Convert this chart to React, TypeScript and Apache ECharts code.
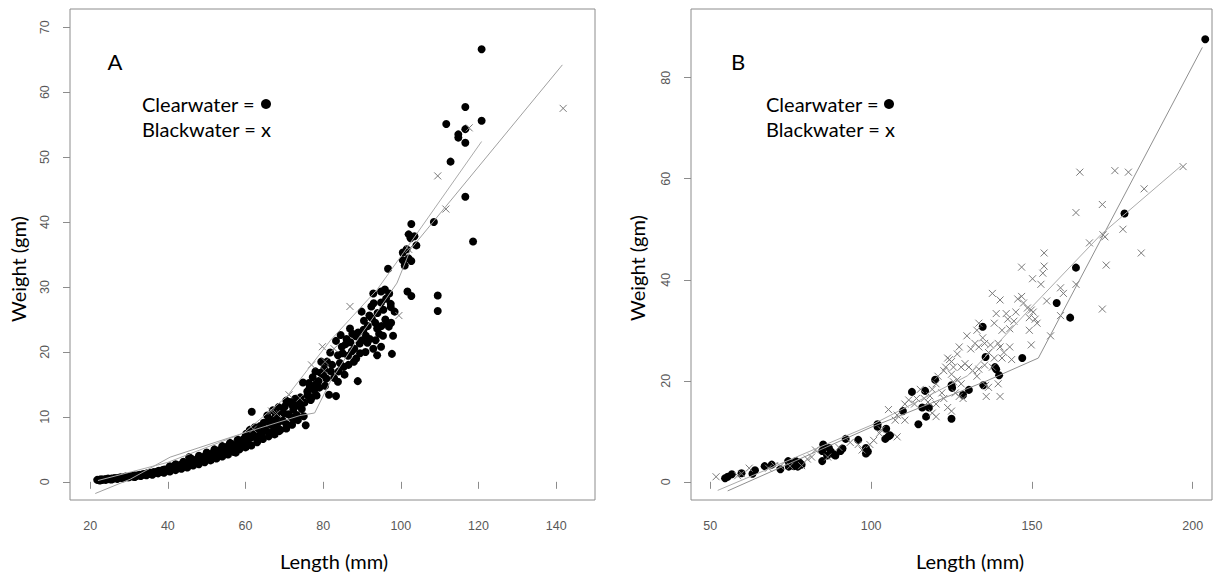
import React, { useEffect, useRef } from 'react';
import * as echarts from 'echarts';

// ---------- tick labels ----------
const xTicksA = [20, 40, 60, 80, 100, 120, 140];
const yTicksA = [0, 10, 20, 30, 40, 50, 60, 70];
const xTicksB = [50, 100, 150, 200];
const yTicksB = [0, 20, 40, 60, 80];

// ---------- panel A ----------
const clearA: number[][] = [
  [21.8,0.3],[22.3,0.3],[22.8,0.4],[23.2,0.3],[23.7,0.4],[24.1,0.4],[24.6,0.5],[25.0,0.4],[25.5,0.5],[26.0,0.5],
  [26.4,0.6],[26.9,0.5],[27.3,0.6],[27.8,0.7],[28.2,0.6],[28.7,0.7],[29.1,0.8],[29.6,0.7],[30.0,0.8],[30.5,0.9],
  [31.0,0.8],[31.4,1.0],[31.9,0.9],[32.3,1.0],[32.8,1.1],[33.2,1.0],[33.7,1.2],[34.1,1.1],[34.6,1.3],[35.0,1.2],
  [35.5,1.4],[35.9,1.3],[36.4,1.5],[36.8,1.4],[37.3,1.6],[37.7,1.7],[38.2,1.5],[38.6,1.8],[39.1,1.9],[39.5,1.7],
  [40.0,2.0],[40.4,2.1],[40.9,1.9],[41.3,2.3],[41.8,2.2],[42.2,2.4],[42.7,2.1],[43.1,2.6],[43.6,2.5],[44.0,2.8],
  [44.5,2.4],[44.9,2.9],[45.4,2.7],[45.5,3.8],[45.8,3.1],[46.3,2.9],[46.7,3.3],[47.2,3.0],[47.6,3.5],[48.1,3.2],
  [48.5,3.7],[49.0,3.4],[49.4,3.9],[49.9,3.6],[50.3,4.1],[50.8,3.8],[51.2,4.3],[51.7,3.9],[52.1,4.6],[52.6,4.2],
  [53.0,4.8],[53.5,4.4],[53.9,5.1],[54.4,4.6],[54.8,5.3],[55.3,4.9],[55.7,5.6],[56.2,5.1],[56.6,5.8],[57.1,5.4],
  [57.5,4.5],[58.0,5.7],[58.4,6.1],[58.9,5.5],[59.3,6.5],[59.8,5.9],[60.2,7.4],[60.6,6.4],[61.1,8.0],[61.5,6.8],
  [61.6,10.8],[62.0,7.3],[62.4,8.4],[62.9,6.9],[63.3,7.7],[63.8,8.6],[64.2,7.4],[64.7,9.1],[65.1,8.0],[65.6,10.2],
  [66.0,7.6],[66.5,8.8],[66.9,9.6],[67.4,8.2],[67.8,10.3],[68.3,9.0],[68.7,7.8],[69.2,10.9],[69.6,9.4],[70.1,11.6],
  [70.5,8.9],[71.0,10.4],[71.4,12.3],[71.9,9.9],[72.3,11.1],[72.8,12.8],[73.2,10.3],[73.7,11.7],[74.1,13.0],[74.8,15.3],
  [75.2,12.2],[75.5,8.7],[75.9,13.9],[76.3,15.2],[76.8,12.6],[77.3,16.1],[77.7,14.1],[78.3,13.3],[78.8,15.5],[79.3,16.8],
  [80.3,17.4],[80.8,15.9],[81.5,13.4],[81.8,19.9],[82.3,18.0],[82.8,16.0],[83.3,21.7],[83.3,13.2],[83.8,15.4],[84.3,18.3],
  [84.5,22.6],[84.8,20.8],[85.3,17.7],[85.8,21.2],[86.4,19.4],[86.9,23.6],[87.4,20.1],[87.9,18.5],[88.4,22.4],[88.9,15.5],
  [89.4,21.3],[89.9,26.2],[90.4,23.4],[90.9,20.0],[91.4,21.4],[91.9,25.6],[92.4,27.0],[92.9,29.0],[92.9,20.5],[93.4,24.5],
  [93.9,19.5],[93.9,23.6],[94.4,22.8],[94.9,29.3],[94.9,27.6],[94.9,20.8],[95.4,22.5],[95.9,29.6],[96.0,25.0],[96.4,24.5],
  [96.7,32.8],[96.9,23.9],[97.4,27.4],[97.4,26.9],[97.7,19.7],[98.4,26.2],[100.5,34.1],[100.5,35.3],[101.0,33.3],[101.5,35.8],
  [101.7,29.3],[102.0,38.1],[102.0,34.4],[102.5,37.5],[102.7,39.7],[102.7,34.0],[102.7,28.6],[103.5,37.8],[104.0,36.4],[108.5,40.0],
  [109.5,28.7],[109.5,26.3],[111.7,55.1],[112.8,49.3],[114.8,53.5],[114.8,53.0],[116.6,57.7],[116.6,54.3],[116.6,52.2],[116.6,43.9],
  [118.6,37.0],[120.8,66.6],[120.8,55.6],
  [22.5,0.2],[24.0,0.3],[25.5,0.35],[27.0,0.45],[28.5,0.55],[30.0,0.7],[31.5,0.75],[33.0,0.9],[34.5,1.0],[36.0,1.1],
  [37.5,1.3],[39.0,1.4],[40.5,1.6],[42.0,1.8],[43.5,2.0],[45.0,2.2],[46.5,2.5],[48.0,2.7],[49.5,3.0],[51.0,3.3],
  [52.5,3.6],[54.0,3.9],[55.5,4.2],[57.0,4.6],[58.5,5.0],[60.0,5.3],[61.5,5.6],[63.0,6.1],[64.5,6.6],[66.0,7.0],
  [67.5,7.3],[69.0,8.0],[70.5,8.2],[72.0,8.8],[73.5,9.5],[75.0,10.1],
  [40.5,2.4],[42.0,2.7],[44.0,3.1],[46.0,3.6],[48.0,4.0],[50.0,4.5],[52.0,5.0],[54.0,5.5],[56.0,6.0],[58.0,6.5],
  [60.0,7.0],[62.0,7.8],[64.0,8.3],[66.0,9.4],[68.0,10.0],[70.0,10.5],[72.0,11.8],[74.0,12.5],[76.0,13.3],[78.0,15.0],[80.0,16.5],
  [83.8,19.5],[84.0,17.0],[85.0,19.8],[85.5,16.5],[86.0,22.0],[86.5,18.0],[87.0,21.5],[87.5,22.8],[88.0,20.5],[88.5,19.0],
  [89.0,23.0],[89.5,19.8],[90.0,21.8],[90.5,24.8],[91.0,22.5],[91.5,24.0],[92.0,22.0],[92.5,25.2],[93.0,27.5],[93.5,21.8],
  [94.0,26.0],[95.0,24.0],[95.5,26.5],[96.2,28.2],[97.0,29.0],[97.5,24.5],[98.0,22.5],[76.5,14.5],[77.0,13.0],[78.0,17.0],
  [79.0,14.5],[79.5,18.5],[80.5,14.8],[81.0,18.5],[82.0,17.0],[67.0,11.0],[68.5,11.5],[70.5,12.5],[72.5,9.6],[73.0,12.0],[74.5,11.2]
];
const blackA: number[][] = [
  [62.0,8.1],[66.7,10.9],[68.0,10.5],[71.2,13.4],[74.0,12.9],[77.0,18.0],[79.8,20.8],[80.3,17.1],[80.5,18.5],[82.8,20.5],
  [86.9,27.0],[99.5,25.6],[102.0,35.8],[109.5,47.1],[111.6,42.0],[117.6,54.5],[141.8,57.5]
];
const lineA1: number[][] = [
  [21.3,-1.8],[30.3,0.4],[40.6,3.8],[59.5,7.5],[74.0,10.2],[77.8,10.6],[81.9,15.5],[88.7,21.8],[93.0,25.4],[99.0,30.6],[102.5,35.8],[141.6,64.2]
];
const lineA2: number[][] = [
  [22.0,0.2],[40.0,3.0],[59.5,7.5],[70.6,13.1],[81.9,21.8],[93.9,29.6],[100.7,35.3],[120.8,52.4]
];

// ---------- panel B ----------
const clearB: number[][] = [
  [203.9,87.6],[178.8,53.1],[163.7,42.4],[157.7,35.4],[161.9,32.5],[134.7,30.7],[135.6,24.7],[147.0,24.5],[138.5,22.7],[138.9,22.3],
  [139.8,21.1],[134.9,19.1],[130.4,18.2],[128.6,17.2],[125.0,19.1],[125.2,18.6],[119.9,20.2],[116.8,18.0],[118.0,14.7],[115.9,14.7],
  [117.1,12.9],[114.7,11.4],[112.7,17.8],[125.0,12.5],[109.9,14.0],[102.0,11.4],[102.0,10.9],[104.4,8.5],[105.4,9.0],[105.9,9.2],
  [104.7,10.5],[98.4,6.7],[99.0,6.0],[98.4,5.6],[96.0,8.3],[92.1,8.5],[90.5,6.1],[91.1,6.6],[88.5,5.4],[88.9,5.2],
  [86.9,6.7],[87.5,6.0],[85.1,7.4],[84.8,6.1],[84.8,4.1],[86.3,5.2],[78.4,3.4],[77.8,3.8],[77.2,3.0],[76.6,4.1],
  [76.0,3.1],[74.2,4.1],[74.4,3.0],[71.8,2.5],[69.1,3.4],[66.9,3.1],[63.9,2.3],[63.1,1.6],[59.7,1.7],[56.7,1.5],
  [55.4,1.0],[54.6,0.7]
];
const blackB: number[][] = [
  [197.0,62.4],[175.8,61.6],[180.0,61.3],[164.9,61.3],[184.9,58.0],[171.9,54.9],[163.7,53.3],[178.3,50.0],[167.9,47.3],[172.1,48.9],
  [172.7,48.5],[184.0,45.3],[173.1,42.9],[171.9,34.2],[153.8,45.3],[153.8,42.7],[153.4,41.3],[146.8,42.5],[150.2,40.2],[152.8,39.1],
  [163.7,39.1],[158.9,38.4],[159.8,37.3],[137.7,37.3],[140.1,36.0],[145.6,36.2],[146.8,36.7],[147.4,35.4],[154.6,35.8],[138.9,33.3],
  [138.3,31.4],[142.0,33.3],[142.5,32.2],[145.0,33.6],[144.4,31.8],[148.6,34.4],[149.8,34.0],[149.2,32.5],[150.4,33.6],[151.0,32.2],
  [151.6,31.4],[149.2,30.0],[149.8,27.1],[158.9,32.9],[155.8,28.9],[140.7,30.0],[143.1,30.3],[133.5,31.4],[132.9,30.0],[129.8,28.9],
  [132.3,27.4],[131.0,26.3],[133.5,26.7],[134.7,28.5],[135.3,27.4],[137.1,27.1],[136.5,25.6],[139.5,27.4],[140.1,26.7],[141.3,25.6],
  [140.7,24.5],[143.1,26.7],[143.7,24.2],[138.3,24.5],[137.7,22.7],[127.4,26.7],[126.8,25.3],[128.0,22.7],[129.2,23.4],[130.4,22.7],
  [131.6,22.0],[133.5,22.3],[132.9,20.9],[135.3,23.1],[135.6,19.1],[136.5,18.7],[135.8,16.9],[139.5,19.4],[140.1,16.9],[123.8,24.5],
  [124.4,24.2],[125.0,23.8],[125.6,22.7],[122.6,22.0],[123.2,22.7],[120.8,20.9],[120.2,19.4],[125.0,21.3],[125.6,19.8],[126.8,20.2],
  [128.0,19.4],[126.2,17.6],[127.4,16.9],[128.6,16.5],[122.0,17.6],[122.6,16.5],[119.0,18.3],[118.3,17.0],[117.7,15.8],[120.2,15.4],
  [115.3,18.3],[116.5,16.5],[114.1,16.5],[113.5,15.4],[111.7,16.2],[110.5,15.4],[119.0,13.6],[120.2,12.9],[123.8,14.7],[125.0,14.0],
  [110.5,12.2],[105.4,14.3],[108.1,13.2],[107.5,12.2],[108.1,8.9],[103.2,10.3],[102.6,9.6],[100.8,8.2],[99.6,7.4],[96.0,7.4],
  [97.2,6.3],[93.5,7.8],[90.0,6.8],[86.5,4.9],[82.7,6.3],[81.5,4.9],[80.2,4.5],[78.4,3.2],[74.8,3.1],[71.8,3.1],
  [70.0,3.2],[68.1,2.7],[62.1,2.7],[59.7,1.6],[58.5,1.2],[51.8,1.0]
];
const lineB1: number[][] = [
  [55.4,-1.8],[100.0,10.8],[136.0,20.0],[152.0,24.5],[203.0,86.0]
];
const lineB2: number[][] = [
  [52.3,-1.7],[100.0,11.2],[130.0,21.0],[149.5,34.3],[171.4,48.9],[196.5,62.6]
];

const CROSS = 'path://M0,0L10,10M10,0L0,10';
const GRAY = '#8c8c8c';
const TICK_FONT = '"Liberation Sans", Arial, sans-serif';
const TEXT_FONT = 'Lato, "Open Sans", sans-serif';

function makeX(gridIndex: number, min: number, max: number, ticks: number[]) {
  return {
    type: 'value', gridIndex, min, max,
    axisLine: { show: false },
    splitLine: { show: false },
    axisTick: { show: true, length: 7, customValues: ticks, lineStyle: { color: GRAY } },
    axisLabel: { customValues: ticks, margin: 19, color: '#585858', fontSize: 12.5, fontFamily: TICK_FONT },
  };
}
function makeY(gridIndex: number, min: number, max: number, ticks: number[]) {
  return {
    type: 'value', gridIndex, min, max,
    axisLine: { show: false },
    splitLine: { show: false },
    axisTick: { show: true, length: 7, customValues: ticks, lineStyle: { color: GRAY } },
    axisLabel: { customValues: ticks, margin: 19, rotate: 90, color: '#585858', fontSize: 12.5, fontFamily: TICK_FONT },
  };
}

function scatterClear(i: number, data: number[][]) {
  return { type: 'scatter', xAxisIndex: i, yAxisIndex: i, data, symbol: 'circle', symbolSize: 8,
    itemStyle: { color: '#000', opacity: 1 }, z: 2 };
}
function scatterBlack(i: number, data: number[][]) {
  return { type: 'scatter', xAxisIndex: i, yAxisIndex: i, data, symbol: CROSS, symbolSize: 7,
    itemStyle: { color: 'rgba(0,0,0,0)', borderColor: '#7a7a7a', borderWidth: 1, opacity: 1 }, z: 3 };
}
function fitLine(i: number, data: number[][], color: string) {
  return { type: 'line', xAxisIndex: i, yAxisIndex: i, data, symbol: 'none', showSymbol: false,
    lineStyle: { color, width: 1 }, z: 4 };
}

function txt(x: number, y: number, text: string, size: number, align = 'left', rotation = 0) {
  return { type: 'text', x, y, rotation, style: { text, fontSize: size, fontFamily: TEXT_FONT, fill: '#000', align, verticalAlign: 'middle' } };
}

export default function App() {
  const ref = useRef<HTMLDivElement>(null);
  useEffect(() => {
    const chart = echarts.init(ref.current!, null, { renderer: 'svg' });
    chart.setOption({
      animation: false,
      backgroundColor: '#fff',
      grid: [
        { left: 70, top: 9, width: 525, height: 491, show: true, borderColor: GRAY, borderWidth: 1 },
        { left: 691, top: 9, width: 521, height: 491, show: true, borderColor: GRAY, borderWidth: 1 },
      ],
      xAxis: [makeX(0, 14.8, 150, xTicksA), makeX(1, 44, 206, xTicksB)],
      yAxis: [makeY(0, -2.8, 72.8, yTicksA), makeY(1, -3.6, 93.6, yTicksB)],
      series: [
        scatterClear(0, clearA), scatterBlack(0, blackA), fitLine(0, lineA1, '#a0a0a0'), fitLine(0, lineA2, '#aaaaaa'),
        scatterClear(1, clearB), scatterBlack(1, blackB), fitLine(1, lineB1, '#8f8f8f'), fitLine(1, lineB2, '#aaaaaa'),
      ],
      graphic: [
        txt(115, 61, 'A', 22, 'center'),
        txt(142, 104, 'Clearwater = ', 20),
        { type: 'circle', shape: { cx: 266, cy: 104, r: 5 }, style: { fill: '#000' } },
        txt(142, 129, 'Blackwater = x', 20),
        txt(738, 61, 'B', 22, 'center'),
        txt(766, 104, 'Clearwater = ', 20),
        { type: 'circle', shape: { cx: 889, cy: 104, r: 5 }, style: { fill: '#000' } },
        txt(766, 129, 'Blackwater = x', 20),
        txt(334, 561, 'Length (mm)', 20, 'center'),
        txt(970, 561, 'Length (mm)', 20, 'center'),
        txt(18, 269, 'Weight (gm)', 20, 'center', Math.PI / 2),
        txt(637, 268, 'Weight (gm)', 20, 'center', Math.PI / 2),
      ],
    });
    return () => chart.dispose();
  }, []);
  return <div ref={ref} style={{ position: 'fixed', left: 0, top: 0, width: 1218, height: 574 }} />;
}
